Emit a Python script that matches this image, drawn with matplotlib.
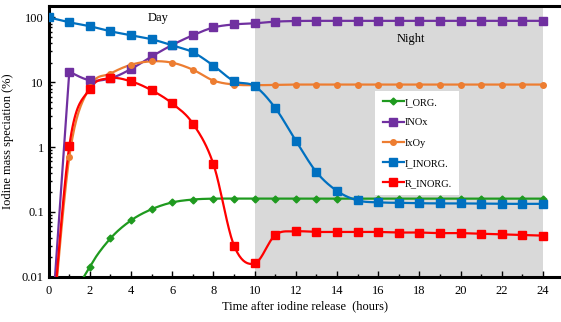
import numpy as np
import matplotlib.pyplot as plt

plt.rcParams['font.family'] = ['Liberation Serif', 'DejaVu Serif']

hours = np.arange(0, 25)

# values in %, 0 hour values of the non-blue series are below the axis
i_org = [0.0001, 0.003, 0.0143, 0.039, 0.074, 0.11, 0.14, 0.155, 0.16, 0.16,
         0.16, 0.16, 0.16, 0.16, 0.16, 0.16, 0.16, 0.16, 0.16, 0.16,
         0.16, 0.16, 0.16, 0.16, 0.16]
inox = [0.0004, 14.5, 10.7, 11.5, 16, 25, 37.6, 53, 70, 78,
        81, 86, 88, 88.5, 88.5, 88.5, 88.5, 88.5, 88.5, 88.5,
        88.5, 88.5, 88.5, 88.5, 88.5]
ixoy = [0.0003, 0.7, 8.5, 13.6, 18.6, 21, 20, 15.6, 10.6, 9.2,
        9.0, 9.1, 9.2, 9.2, 9.2, 9.2, 9.2, 9.2, 9.2, 9.2,
        9.2, 9.2, 9.2, 9.2, 9.2]
i_inorg = [100, 84, 73, 61, 53, 46, 37, 29, 18, 10.4,
           8.7, 4.0, 1.25, 0.41, 0.21, 0.15, 0.14, 0.138, 0.136, 0.135,
           0.135, 0.134, 0.133, 0.133, 0.133]
r_inorg = [0.0003, 1.04, 7.9, 11.5, 10.3, 7.5, 4.7, 2.3, 0.54, 0.03,
           0.016, 0.044, 0.05, 0.049, 0.049, 0.049, 0.049, 0.048, 0.048, 0.047,
           0.047, 0.046, 0.045, 0.044, 0.043]


def smooth(x, y, n=20):
    # catmull-rom through the points, in log space
    x = np.asarray(x, float)
    ly = np.log10(np.asarray(y, float))
    px = np.concatenate([[x[0]], x, [x[-1]]])
    py = np.concatenate([[ly[0]], ly, [ly[-1]]])
    xs, ys = [], []
    t = np.linspace(0, 1, n, endpoint=False)
    for i in range(1, len(px) - 2):
        p0, p1, p2, p3 = px[i-1], px[i], px[i+1], px[i+2]
        q0, q1, q2, q3 = py[i-1], py[i], py[i+1], py[i+2]
        bx = [p1, p1 + (p2 - p0) / 6, p2 - (p3 - p1) / 6, p2]
        by = [q1, q1 + (q2 - q0) / 6, q2 - (q3 - q1) / 6, q2]
        for bb, out in ((bx, xs), (by, ys)):
            out.extend((1-t)**3*bb[0] + 3*(1-t)**2*t*bb[1] + 3*(1-t)*t**2*bb[2] + t**3*bb[3])
    xs.append(x[-1])
    ys.append(ly[-1])
    return np.array(xs), 10 ** np.array(ys)


fig = plt.figure(figsize=(5.61, 3.22), dpi=100)
ax = fig.add_axes([0.0868, 0.1407, 0.9132, 0.8413])

ax.axvspan(10, 24, color='#d9d9d9', lw=0, zorder=0)

# name, values, colour, marker, size, first point of the smoothed part
series = [
    ('I_ORG.', i_org, '#1f9a1f', 'D', 3.5, 0),
    ('INOx', inox, '#7030a0', 's', 5.5, 1),
    ('IxOy', ixoy, '#ed7d31', 'o', 4, 0),
    ('I_INORG.', i_inorg, '#0070c0', 's', 5.5, 0),
    ('R_INORG.', r_inorg, '#ff0000', 's', 5.5, 0),
]
for name, vals, col, mk, ms, k in series:
    sx, sy = smooth(hours[k:], vals[k:])
    if k:
        sx = np.concatenate([hours[:k], sx])
        sy = np.concatenate([vals[:k], sy])
    ax.plot(sx, sy, color=col, lw=1.6, zorder=3)
    ax.plot(hours, vals, ls='none', marker=mk, ms=ms, color=col, zorder=4)
    ax.plot([], [], color=col, lw=1.6, marker=mk, ms=ms, label=name)

ax.set_yscale('log')
ax.set_ylim(0.01, 151)
ax.set_xlim(0, 24.87)
ax.set_xticks(range(0, 25, 2))
ax.set_xticks(range(0, 25), minor=True)
ax.set_yticks([0.01, 0.1, 1, 10, 100])
ax.set_yticklabels(['0.01', '0.1', '1', '10', '100'])
ax.tick_params(which='both', direction='in', labelsize=9, width=1)
ax.tick_params(which='major', length=4)
ax.tick_params(which='minor', length=2.5)
ax.tick_params(axis='x', pad=6)

for s in ['left', 'bottom', 'top']:
    ax.spines[s].set_linewidth(2.2)
ax.spines['right'].set_visible(False)

ax.text(5.3, 97, 'Day', ha='center', va='center', fontsize=9)
ax.text(17.6, 46, 'Night', ha='center', va='center', fontsize=9)

ax.set_xlabel('Time after iodine release  (hours)', fontsize=9, labelpad=2)
ax.set_ylabel('Iodine mass speciation (%)', fontsize=9, labelpad=6)

leg = fig.legend(loc='upper left', bbox_to_anchor=(0.66, 0.735), fontsize=7.5,
                 frameon=True, fancybox=False, edgecolor='none', framealpha=1,
                 labelspacing=1.05, handlelength=2.0, handletextpad=0.1,
                 borderpad=0.7)

fig.savefig('out.png', dpi=100)
